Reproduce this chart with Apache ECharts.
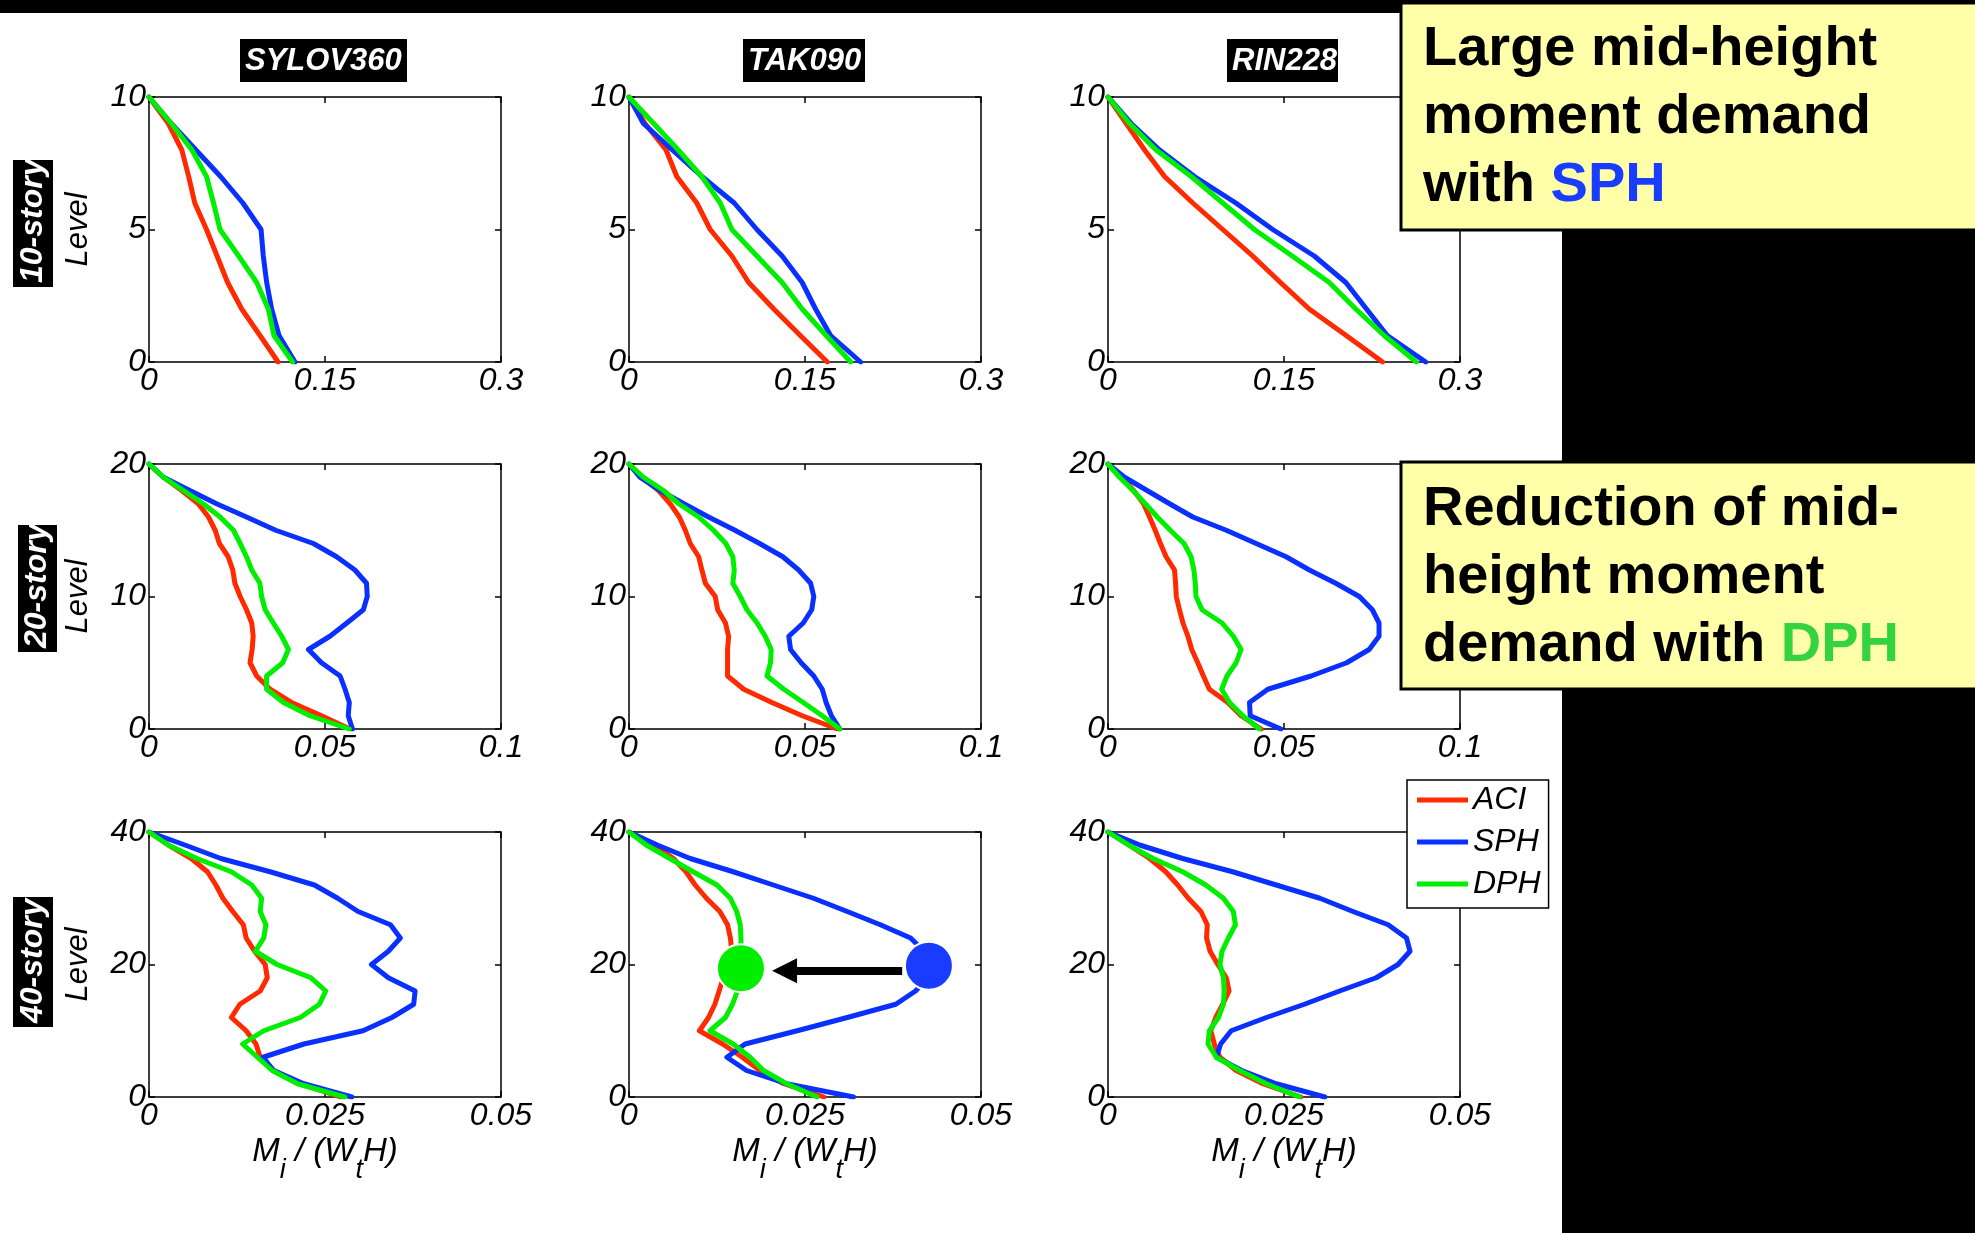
<!DOCTYPE html>
<html>
<head>
<meta charset="utf-8">
<script src="https://cdn.jsdelivr.net/npm/echarts@6/dist/echarts.min.js"></script>
<style>
  html, body { margin: 0; padding: 0; background: #fff; }
  #chart { width: 1975px; height: 1233px; }
</style>
</head>
<body>
<div id="chart"></div>
<script>
var FONT = "'Liberation Sans', Arial, Helvetica, sans-serif";

// levels, from roof down to base
var levels10 = [10, 9, 8, 7, 6, 5, 4, 3, 2, 1, 0];
var levels20 = [20, 19, 18, 17, 16, 15, 14, 13, 12, 11, 10, 9, 8, 7, 6, 5, 4, 3, 2, 1, 0];
var levels40 = [40, 38, 36, 34, 32, 30, 28, 26, 24, 22, 20, 18, 16, 14, 12, 10, 8, 6, 4, 2, 0];

var buildings = ["SYLOV360", "TAK090", "RIN228"];
var stories = ["10-story", "20-story", "40-story"];
var seriesNames = ["ACI", "SPH", "DPH"];

// axis ticks per row
var xTicks = [[0, 0.15, 0.3], [0, 0.05, 0.1], [0, 0.025, 0.05]];
var yTicks = [[0, 5, 10], [0, 10, 20], [0, 20, 40]];

// 10-story  M_i / (W_t H)
var aciSylov10 = [0, 0.0165, 0.028, 0.0338, 0.039, 0.049, 0.058, 0.067, 0.079, 0.0946, 0.110];
var sphSylov10 = [0, 0.019, 0.040, 0.061, 0.080, 0.0955, 0.0974, 0.1003, 0.1045, 0.1108, 0.1244];
var dphSylov10 = [0, 0.019, 0.0366, 0.049, 0.055, 0.0605, 0.0764, 0.0918, 0.1017, 0.1065, 0.1224];

var aciTak10 = [0, 0.0137, 0.0316, 0.0407, 0.0578, 0.0692, 0.0877, 0.102, 0.1234, 0.146, 0.169];
var sphTak10 = [0, 0.0123, 0.037, 0.0621, 0.0897, 0.109, 0.1305, 0.1476, 0.159, 0.1718, 0.1974];
var dphTak10 = [0, 0.021, 0.042, 0.062, 0.0778, 0.0877, 0.109, 0.1305, 0.1476, 0.168, 0.189];

var aciRin10 = [0, 0.0156, 0.0312, 0.0482, 0.0723, 0.0978, 0.1233, 0.147, 0.1715, 0.203, 0.234];
var sphRin10 = [0, 0.0198, 0.044, 0.0737, 0.109, 0.1404, 0.1758, 0.2027, 0.2203, 0.238, 0.2708];
var dphRin10 = [0, 0.0184, 0.041, 0.0709, 0.0978, 0.1248, 0.157, 0.1886, 0.2112, 0.2353, 0.2628];

// 20-story
var aciSylov20 = [0, 0.0041, 0.0093, 0.014, 0.0169, 0.0188, 0.02, 0.0225, 0.0238, 0.0244, 0.0259, 0.0277, 0.0292, 0.0296, 0.0293, 0.0287, 0.0306, 0.0344, 0.0405, 0.049, 0.0571];
var sphSylov20 = [0, 0.0041, 0.0116, 0.0192, 0.0277, 0.036, 0.0467, 0.0533, 0.0585, 0.0618, 0.062, 0.0609, 0.0562, 0.0514, 0.0453, 0.049, 0.0543, 0.0557, 0.0569, 0.0566, 0.0578];
var dphSylov20 = [0, 0.0041, 0.0098, 0.0154, 0.0202, 0.024, 0.0259, 0.0277, 0.0292, 0.0315, 0.032, 0.033, 0.0353, 0.0377, 0.0396, 0.038, 0.0334, 0.0334, 0.0382, 0.0457, 0.0569];

var aciTak20 = [0, 0.0036, 0.0084, 0.0117, 0.0143, 0.016, 0.0174, 0.0198, 0.0207, 0.0217, 0.0245, 0.0252, 0.0274, 0.0283, 0.028, 0.028, 0.028, 0.0326, 0.0406, 0.0492, 0.0592];
var sphTak20 = [0, 0.0031, 0.0088, 0.0156, 0.0226, 0.0301, 0.0371, 0.0437, 0.0482, 0.0516, 0.0525, 0.0519, 0.0495, 0.0454, 0.0459, 0.0489, 0.0525, 0.0549, 0.056, 0.0575, 0.0599];
var dphTak20 = [0, 0.0041, 0.0098, 0.0141, 0.0198, 0.024, 0.0275, 0.0295, 0.0299, 0.0295, 0.0316, 0.0335, 0.0364, 0.0387, 0.0404, 0.0402, 0.0392, 0.044, 0.0495, 0.0549, 0.0599];

var aciRin20 = [0, 0.0038, 0.0073, 0.0101, 0.0118, 0.0134, 0.0149, 0.0165, 0.0189, 0.0192, 0.0194, 0.0203, 0.0213, 0.0227, 0.0238, 0.0255, 0.0271, 0.0288, 0.034, 0.0378, 0.0435];
var sphRin20 = [0, 0.0047, 0.0111, 0.0175, 0.0241, 0.0336, 0.0421, 0.0506, 0.0572, 0.0647, 0.0714, 0.0751, 0.077, 0.077, 0.0742, 0.0678, 0.0577, 0.0454, 0.0402, 0.0404, 0.0491];
var dphRin20 = [0, 0.0033, 0.0071, 0.0106, 0.014, 0.0177, 0.0216, 0.0236, 0.0244, 0.0248, 0.025, 0.0267, 0.0324, 0.0356, 0.0378, 0.0364, 0.0338, 0.0323, 0.0345, 0.0383, 0.043];

// 40-story
var aciSylov40 = [0, 0.0028, 0.006, 0.0083, 0.0095, 0.0105, 0.0119, 0.0134, 0.0138, 0.015, 0.0165, 0.0168, 0.0158, 0.0129, 0.0117, 0.0138, 0.0152, 0.0158, 0.0177, 0.0215, 0.0273];
var sphSylov40 = [0, 0.0052, 0.0102, 0.0172, 0.0235, 0.0268, 0.0297, 0.0343, 0.0357, 0.034, 0.0316, 0.034, 0.0378, 0.0376, 0.0345, 0.0304, 0.022, 0.0162, 0.0177, 0.022, 0.0288];
var dphSylov40 = [0, 0.0028, 0.0068, 0.0117, 0.0146, 0.016, 0.0158, 0.0166, 0.0163, 0.0151, 0.0182, 0.023, 0.0251, 0.0242, 0.0215, 0.0163, 0.0133, 0.0154, 0.0175, 0.0211, 0.0278];

var aciTak40 = [0, 0.0037, 0.0063, 0.0081, 0.0094, 0.011, 0.0129, 0.014, 0.0144, 0.0146, 0.0141, 0.0134, 0.0128, 0.0122, 0.0113, 0.01, 0.0133, 0.0161, 0.0186, 0.022, 0.0277];
var sphTak40 = [0, 0.0041, 0.0087, 0.0148, 0.0205, 0.0262, 0.031, 0.0357, 0.04, 0.0419, 0.0426, 0.0424, 0.0407, 0.0379, 0.031, 0.0239, 0.0165, 0.0139, 0.0167, 0.0224, 0.0319];
var dphTak40 = [0, 0.0025, 0.0058, 0.0091, 0.0125, 0.0144, 0.0153, 0.0158, 0.0159, 0.0159, 0.0159, 0.0158, 0.0154, 0.0147, 0.0137, 0.0115, 0.0148, 0.0172, 0.0191, 0.0224, 0.0267];

var aciRin40 = [0, 0.003, 0.0059, 0.0082, 0.0099, 0.0114, 0.0132, 0.0141, 0.014, 0.0145, 0.0156, 0.0168, 0.0172, 0.0163, 0.0153, 0.0146, 0.0151, 0.0159, 0.0182, 0.022, 0.0274];
var sphRin40 = [0, 0.0046, 0.0106, 0.0177, 0.0239, 0.0301, 0.0348, 0.0398, 0.0424, 0.0429, 0.0412, 0.0381, 0.0329, 0.0279, 0.0225, 0.0175, 0.016, 0.0154, 0.019, 0.0239, 0.0308];
var dphRin40 = [0, 0.003, 0.0064, 0.0106, 0.0139, 0.0164, 0.0178, 0.0181, 0.0171, 0.0162, 0.0159, 0.0164, 0.0165, 0.0164, 0.0157, 0.0144, 0.0142, 0.0154, 0.0187, 0.0225, 0.0272];

// highlighted points in TAK090 40-story panel (SPH -> DPH)
var markSph = [0.0426, 19.8];
var markDph = [0.0159, 19.45];
var arrowFrom = [0.0388, 19.05];
var arrowTo = [0.0221, 19.05];

var panelData = [
  [[aciSylov10, sphSylov10, dphSylov10], [aciTak10, sphTak10, dphTak10], [aciRin10, sphRin10, dphRin10]],
  [[aciSylov20, sphSylov20, dphSylov20], [aciTak20, sphTak20, dphTak20], [aciRin20, sphRin20, dphRin20]],
  [[aciSylov40, sphSylov40, dphSylov40], [aciTak40, sphTak40, dphTak40], [aciRin40, sphRin40, dphRin40]]
];
var levelsByRow = [levels10, levels20, levels40];

var colors = ["#ff2a00", "#0a30ff", "#00ee00"];
var colLeft = [149, 629, 1108];
var rowTop = [97, 464, 832];
var plotW = 352, plotH = 265;

var grids = [], xAxes = [], yAxes = [], series = [];

var labelStyle = { show: true, fontSize: 32, fontStyle: "italic", fontFamily: FONT, color: "#000", margin: 3 };
var tickStyle = { show: true, inside: true, length: 6, lineStyle: { color: "#000", width: 1.5 } };

for (var r = 0; r < 3; r++) {
  for (var c = 0; c < 3; c++) {
    var g = grids.length;
    grids.push({
      left: colLeft[c], top: rowTop[r], width: plotW, height: plotH,
      show: true, borderColor: "#000", borderWidth: 1.5
    });
    var xt = xTicks[r], yt = yTicks[r];
    var xb = {
      gridIndex: g, type: "value", min: xt[0], max: xt[xt.length - 1], interval: xt[1] - xt[0],
      splitLine: { show: false }, axisLine: { show: false, onZero: false }, axisTick: tickStyle
    };
    var yb = {
      gridIndex: g, type: "value", min: yt[0], max: yt[yt.length - 1], interval: yt[1] - yt[0],
      splitLine: { show: false }, axisLine: { show: false, onZero: false }, axisTick: tickStyle
    };
    var xBottom = Object.assign({}, xb, { position: "bottom", axisLabel: labelStyle });
    if (r === 2) {
      xBottom.name = "{m|M}{s|i}{m| / (W}{s|t}{m|H)}";
      xBottom.nameLocation = "middle";
      xBottom.nameGap = 38;
      xBottom.nameTextStyle = {
        rich: {
          m: { fontSize: 33, fontStyle: "italic", fontFamily: FONT, color: "#000", lineHeight: 34, verticalAlign: "top" },
          s: { fontSize: 27, fontStyle: "italic", fontFamily: FONT, color: "#000", lineHeight: 27, verticalAlign: "top", padding: [22, 0, 0, 0] }
        }
      };
    }
    xAxes.push(xBottom);
    xAxes.push(Object.assign({}, xb, { position: "top", axisLabel: { show: false } }));
    var yLeft = Object.assign({}, yb, { position: "left", axisLabel: labelStyle });
    if (c === 0) {
      yLeft.name = "Level";
      yLeft.nameLocation = "middle";
      yLeft.nameRotate = 90;
      yLeft.nameGap = 55;
      yLeft.nameTextStyle = { fontSize: 31, fontStyle: "italic", fontFamily: FONT, color: "#000" };
    }
    yAxes.push(yLeft);
    yAxes.push(Object.assign({}, yb, { position: "right", axisLabel: { show: false } }));

    var lv = levelsByRow[r];
    var vals = panelData[r][c];
    for (var k = 0; k < 3; k++) {
      series.push({
        name: seriesNames[k], type: "line", xAxisIndex: 2 * g, yAxisIndex: 2 * g,
        data: lv.map(function (l, i) { return [vals[k][i], l]; }),
        symbol: "none", smooth: false, silent: true,
        lineStyle: { color: colors[k], width: 5, cap: "round", join: "round" },
        itemStyle: { color: colors[k] }
      });
    }
  }
}

// TAK090 40-story panel is grid 7
var gMark = 7;
series.push({
  type: "lines", coordinateSystem: "cartesian2d", xAxisIndex: 2 * gMark, yAxisIndex: 2 * gMark,
  z: 5, silent: true, symbol: ["none", "triangle"], symbolSize: 25,
  lineStyle: { color: "#000", width: 8, opacity: 1, curveness: 0 },
  data: [{ coords: [arrowFrom, arrowTo] }]
});
series.push({
  type: "scatter", xAxisIndex: 2 * gMark, yAxisIndex: 2 * gMark, z: 6, silent: true,
  symbolSize: 48, data: [markSph],
  itemStyle: { color: "#1a3cff", borderColor: "#fff", borderWidth: 2, opacity: 1 }
});
series.push({
  type: "scatter", xAxisIndex: 2 * gMark, yAxisIndex: 2 * gMark, z: 6, silent: true,
  symbolSize: 48, data: [markDph],
  itemStyle: { color: "#00ee00", borderColor: "#fff", borderWidth: 2, opacity: 1 }
});

// decorations: black bars, labels, note boxes
var graphics = [];
graphics.push({ type: "rect", shape: { x: 0, y: 0, width: 1975, height: 13 }, style: { fill: "#000" }, z: 100 });
graphics.push({ type: "rect", shape: { x: 1562, y: 0, width: 413, height: 1233 }, style: { fill: "#000" }, z: 100 });

var titleBoxes = [[240, 167], [743, 122], [1227, 111]];
buildings.forEach(function (name, i) {
  graphics.push({ type: "rect", shape: { x: titleBoxes[i][0], y: 39, width: titleBoxes[i][1], height: 43 }, style: { fill: "#000" }, z: 100 });
  graphics.push({
    type: "text", x: titleBoxes[i][0] + 5, y: 61, z: 101,
    style: { text: name, fill: "#fff", fontSize: 31, fontWeight: "bold", fontStyle: "italic", fontFamily: FONT, align: "left", verticalAlign: "middle" }
  });
});

var storyBoxes = [[13, 160, 40, 127], [18, 525, 39, 127], [13, 897, 40, 130]];
stories.forEach(function (s, i) {
  var b = storyBoxes[i];
  graphics.push({ type: "rect", shape: { x: b[0], y: b[1], width: b[2], height: b[3] }, style: { fill: "#000" }, z: 100 });
  graphics.push({
    type: "text", x: b[0] + b[2] / 2, y: b[1] + b[3] - 4, rotation: Math.PI / 2, z: 101,
    style: { text: s, fill: "#fff", fontSize: 32, fontWeight: "bold", fontStyle: "italic", fontFamily: FONT, align: "left", verticalAlign: "middle" }
  });
});

var noteFont = { fontSize: 56, fontWeight: "bold", fontFamily: FONT, lineHeight: 68 };
graphics.push({ type: "rect", shape: { x: 1401, y: 3, width: 590, height: 227 }, style: { fill: "#ffffaa", stroke: "#000", lineWidth: 3 }, z: 110 });
graphics.push({
  type: "text", x: 1423, y: 16, z: 111,
  style: Object.assign({
    text: "Large mid-height\nmoment demand\nwith {b|SPH}", fill: "#000",
    rich: { b: Object.assign({ fill: "#1a3cff" }, noteFont) }
  }, noteFont)
});
graphics.push({ type: "rect", shape: { x: 1401, y: 462, width: 590, height: 227 }, style: { fill: "#ffffaa", stroke: "#000", lineWidth: 3 }, z: 110 });
graphics.push({
  type: "text", x: 1423, y: 476, z: 111,
  style: Object.assign({
    text: "Reduction of mid-\nheight moment\ndemand with {g|DPH}", fill: "#000",
    rich: { g: Object.assign({ fill: "#33d43f" }, noteFont) }
  }, noteFont)
});

var myChart = echarts.init(document.getElementById("chart"));
myChart.setOption({
  animation: false,
  backgroundColor: "#fff",
  grid: grids,
  xAxis: xAxes,
  yAxis: yAxes,
  legend: {
    data: seriesNames, orient: "vertical", left: 1407, top: 780,
    icon: "rect", itemWidth: 51, itemHeight: 5, itemGap: 10,
    backgroundColor: "#fff", borderColor: "#000", borderWidth: 1.5,
    padding: [4, 8, 8, 10], selectedMode: false, z: 10,
    textStyle: { fontSize: 32, fontStyle: "italic", fontFamily: FONT, color: "#000" }
  },
  graphic: graphics,
  series: series
});
</script>
</body>
</html>
